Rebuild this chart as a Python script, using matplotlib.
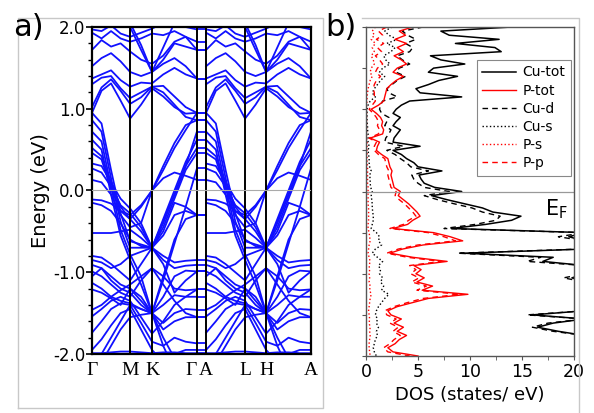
import numpy as np
import matplotlib.pyplot as plt
from matplotlib.lines import Line2D

# k-path: high-symmetry points and their position along the path
kpt_labels = ['Γ', 'M', 'K', 'Γ', 'A', 'L', 'H', 'A']
kpt_dist = [0.0, 0.174, 0.274, 0.479, 0.521, 0.699, 0.795, 1.0]

# band energies (eV) sampled at Γ, 3 pts, M, 1 pt, K, 3 pts, Γ
# (the kz = pi/c plane A-L-H-A looks the same, so the same values are used there)
upper_bands = [
    [1.97, 1.95, 2.02, 1.92, 1.88, 1.93, 1.98, 2.05, 2.10, 2.00, 1.97],
    [1.93, 1.86, 1.95, 1.86, 1.82, 1.86, 1.92, 1.90, 1.95, 1.88, 1.82],
    [1.72, 1.84, 1.76, 1.80, 1.70, 1.60, 1.55, 1.65, 1.82, 1.88, 1.72],
    [2.25, 2.20, 2.15, 2.10, 2.05, 1.78, 1.45, 1.75, 2.05, 2.20, 2.25],
    [2.20, 2.15, 2.10, 2.10, 2.00, 1.72, 1.45, 1.60, 1.80, 1.76, 1.72],
    [1.52, 1.62, 1.68, 1.58, 1.45, 1.40, 1.45, 1.55, 1.62, 1.52, 1.37],
    [1.37, 1.42, 1.47, 1.35, 1.27, 1.32, 1.31, 1.42, 1.50, 1.42, 1.37],
    [1.30, 1.38, 1.40, 1.25, 1.13, 1.20, 1.27, 1.28, 1.15, 1.02, 0.95],
    [0.95, 1.22, 1.31, 1.10, 0.88, 1.05, 1.25, 1.15, 1.02, 0.94, 0.95],
    [1.02, 1.26, 1.36, 1.22, 1.06, 1.14, 1.27, 1.20, 1.05, 0.90, 0.86],
]
mid_bands = [
    [0.95, 0.82, 0.25, -0.28, -0.62, -0.66, -0.70, -0.40, -0.05, 0.30, 0.52],
    [0.86, 0.72, 0.15, -0.38, -0.70, -0.70, -0.70, -0.45, -0.10, 0.25, 0.46],
    [0.72, 0.60, 0.05, -0.48, -0.78, -1.05, -1.50, -1.05, -0.60, -0.35, -0.30],
    [0.62, 0.50, -0.05, -0.55, -0.85, -1.15, -1.50, -1.10, -0.65, -0.20, 0.27],
    [0.52, 0.42, 0.10, -0.20, -0.35, -0.20, 0.00, 0.30, 0.58, 0.80, 0.86],
    [0.46, 0.38, 0.02, -0.25, -0.30, -0.18, 0.00, 0.25, 0.52, 0.74, 0.95],
    [0.33, 0.30, 0.10, -0.10, -0.22, -0.40, -0.70, -0.35, 0.00, 0.35, 0.62],
    [0.27, 0.22, 0.05, -0.18, -0.28, -0.45, -0.70, -0.38, -0.05, 0.30, 0.72],
    [0.13, 0.10, -0.05, -0.30, -0.45, -0.40, 0.00, 0.15, 0.22, 0.18, 0.13],
    [-0.11, -0.12, -0.16, -0.25, -0.35, -0.50, -0.70, -0.55, -0.30, -0.25, -0.30],
    [-0.15, -0.18, -0.25, -0.40, -0.60, -0.68, -0.70, -0.90, -1.25, -1.10, -0.99],
]
lower_bands = [
    [-0.52, -0.52, -0.52, -0.50, -0.48, -0.58, -0.70, -0.50, -0.15, -0.20, -0.30],
    [-0.80, -0.82, -0.90, -1.00, -1.10, -0.90, -0.70, -0.80, -0.88, -0.86, -0.85],
    [-0.85, -0.88, -0.95, -0.90, -0.80, -0.75, -0.70, -0.85, -0.95, -0.92, -0.91],
    [-0.91, -0.95, -1.05, -1.15, -1.20, -1.35, -1.50, -1.30, -1.05, -0.98, -0.99],
    [-0.99, -1.05, -1.15, -1.25, -1.30, -1.10, -0.95, -1.05, -1.20, -1.22, -1.21],
    [-1.05, -0.95, -1.10, -1.20, -1.25, -1.40, -1.50, -1.40, -1.28, -1.30, -1.30],
    [-1.13, -1.20, -1.30, -1.35, -1.38, -1.45, -1.50, -1.62, -1.50, -1.45, -1.46],
    [-1.21, -1.25, -1.32, -1.40, -1.20, -1.30, -1.50, -1.70, -1.60, -1.55, -1.55],
    [-1.46, -1.40, -1.30, -1.22, -1.15, -1.05, -0.95, -1.15, -1.35, -1.50, -1.55],
    [-1.54, -1.45, -1.35, -1.30, -1.35, -1.55, -1.75, -1.60, -1.40, -1.30, -1.21],
    [-1.74, -1.60, -1.45, -1.38, -1.40, -1.62, -1.85, -1.90, -1.80, -1.85, -1.87],
    [-1.95, -1.82, -1.65, -1.50, -1.45, -1.70, -1.95, -2.10, -2.00, -1.95, -1.95],
    [-2.20, -2.00, -1.80, -1.60, -1.40, -1.45, -1.50, -1.80, -2.05, -2.20, -2.30],
    [-2.30, -2.10, -1.90, -1.70, -1.55, -1.52, -1.50, -1.90, -2.20, -2.30, -2.30],
    [-1.99, -1.99, -1.98, -1.97, -1.97, -1.98, -1.99, -1.98, -1.98, -1.99, -1.99],
]

# DOS (states/eV)
dos_energy = [2.00, 1.95, 1.90, 1.85, 1.80, 1.75, 1.70, 1.65, 1.60, 1.55,
              1.50, 1.45, 1.40, 1.35, 1.30, 1.25, 1.20, 1.15, 1.10, 1.05,
              1.00, 0.95, 0.90, 0.85, 0.80, 0.75, 0.70, 0.65, 0.60, 0.55,
              0.50, 0.45, 0.40, 0.35, 0.30, 0.25, 0.20, 0.15, 0.10, 0.05,
              0.00, -0.05, -0.10, -0.15, -0.20, -0.25, -0.30, -0.35, -0.40, -0.45,
              -0.50, -0.55, -0.60, -0.65, -0.70, -0.75, -0.80, -0.85, -0.90, -0.95,
              -1.00, -1.05, -1.10, -1.15, -1.20, -1.25, -1.30, -1.35, -1.40, -1.45,
              -1.50, -1.55, -1.60, -1.65, -1.70, -1.75, -1.80, -1.85, -1.90, -1.95,
              -2.00]
cu_tot = [14.0, 7.2, 8.0, 12.8, 8.6, 12.4, 13.0, 6.2, 7.2, 9.5,
          6.5, 6.0, 8.8, 7.0, 6.0, 4.8, 5.2, 9.2, 4.2, 3.4,
          2.9, 2.6, 3.3, 2.9, 2.6, 3.3, 3.0, 2.7, 2.6, 5.2,
          2.6, 3.4, 3.9, 4.6, 5.0, 7.3, 5.1, 5.3, 5.6, 6.6,
          9.2, 6.3, 7.8, 9.5, 11.2, 12.2, 14.9, 14.0, 11.5, 8.2,
          21, 19.5, 21, 21, 21, 9.4, 18.0, 17.0, 21, 21,
          21, 19.8, 21, 21, 21, 21, 21, 21, 21, 21,
          16.0, 21, 18.0, 16.5, 18.5, 21, 21, 21, 21, 21,
          21]
cu_d = [5.5, 3.5, 4.0, 4.8, 3.8, 4.5, 4.2, 3.0, 3.5, 4.2,
        3.2, 2.9, 3.8, 3.0, 2.5, 2.0, 2.2, 3.0, 1.6, 1.4,
        1.3, 1.5, 2.2, 2.0, 1.8, 2.4, 2.2, 1.9, 1.8, 3.6,
        2.0, 2.8, 3.3, 3.9, 4.3, 6.0, 4.4, 4.6, 5.0, 5.6,
        8.0, 5.6, 6.9, 8.5, 10.2, 11.2, 12.9, 12.5, 10.5, 7.5,
        21, 18.5, 21, 21, 20.5, 8.8, 16.8, 15.5, 21, 21,
        21, 19.0, 21, 21, 21, 21, 21, 21, 21, 21,
        15.5, 21, 17.5, 16.0, 18.0, 21, 21, 21, 21, 21,
        21]
cu_s = [2.5, 1.8, 2.2, 3.0, 2.0, 2.8, 2.4, 1.7, 1.9, 2.3,
        1.6, 1.3, 1.8, 1.4, 1.1, 0.8, 0.6, 0.9, 0.4, 0.2,
        0.1, 0.1, 0.1, 0.1, 0.15, 0.15, 0.2, 0.2, 0.2, 0.3,
        0.2, 0.25, 0.3, 0.3, 0.35, 0.5, 0.35, 0.4, 0.4, 0.45,
        0.6, 0.5, 0.55, 0.6, 0.6, 0.65, 0.7, 0.7, 0.6, 0.5,
        1.0, 1.3, 1.2, 1.5, 0.9, 0.6, 1.1, 1.6, 1.2, 1.4,
        1.3, 1.6, 1.4, 1.7, 1.5, 2.2, 1.8, 1.5, 1.2, 1.0,
        0.9, 1.1, 1.0, 1.2, 1.0, 1.1, 0.9, 0.8, 0.7, 0.8,
        1.0]
p_tot = [4.5, 3.2, 3.8, 2.8, 3.9, 3.0, 3.6, 2.7, 3.4, 3.9,
         3.0, 2.6, 3.6, 2.9, 2.4, 2.0, 1.9, 1.8, 1.7, 1.2,
         0.5, 1.0, 1.4, 1.6, 1.5, 1.7, 1.6, 0.4, 1.3, 1.1,
         1.0, 1.5, 2.1, 2.2, 2.3, 2.5, 2.4, 2.5, 2.6, 2.7,
         3.3, 3.1, 3.6, 4.1, 4.5, 4.9, 5.2, 4.5, 4.0, 2.6,
         6.5, 8.1, 9.3, 5.5, 3.5, 2.3, 4.5, 7.8, 4.6, 5.3,
         4.8, 5.6, 4.9, 6.4, 5.4, 9.8, 6.0, 4.5, 3.0, 2.1,
         2.4, 3.4, 2.7, 3.6, 3.0, 3.9, 3.2, 2.8, 2.1, 2.6,
         5.0]
p_p = [2.0, 1.2, 1.6, 1.0, 1.7, 1.1, 1.5, 0.9, 1.3, 1.6,
       1.1, 0.9, 1.4, 1.0, 0.8, 0.7, 0.8, 0.8, 0.9, 0.6,
       0.3, 0.7, 1.0, 1.2, 1.1, 1.3, 1.2, 0.3, 1.0, 0.8,
       0.8, 1.2, 1.8, 1.9, 2.0, 2.2, 2.1, 2.2, 2.3, 2.4,
       2.9, 2.8, 3.2, 3.7, 4.1, 4.5, 4.8, 4.1, 3.6, 2.3,
       6.0, 7.5, 8.6, 5.0, 3.1, 2.0, 4.0, 7.2, 4.2, 4.8,
       4.3, 5.1, 4.4, 5.8, 4.9, 9.0, 5.5, 4.0, 2.7, 1.8,
       2.0, 2.9, 2.3, 3.1, 2.6, 3.3, 2.7, 2.3, 1.7, 2.1,
       4.2]
p_s = [0.9, 0.6, 0.8, 0.5, 0.9, 0.6, 0.8, 0.5, 0.7, 0.8,
       0.5, 0.4, 0.6, 0.4, 0.3, 0.2, 0.15, 0.1, 0.1, 0.05,
       0.05, 0.05, 0.05, 0.05, 0.05, 0.05, 0.05, 0.05, 0.1, 0.1,
       0.1, 0.1, 0.1, 0.1, 0.15, 0.15, 0.15, 0.15, 0.15, 0.2,
       0.2, 0.2, 0.2, 0.2, 0.25, 0.25, 0.25, 0.25, 0.2, 0.2,
       0.3, 0.35, 0.4, 0.3, 0.25, 0.2, 0.3, 0.4, 0.3, 0.35,
       0.3, 0.35, 0.3, 0.4, 0.35, 0.5, 0.4, 0.35, 0.3, 0.25,
       0.3, 0.35, 0.3, 0.4, 0.35, 0.4, 0.35, 0.3, 0.3, 0.35,
       0.4]

W, H = 594, 413
fig = plt.figure(figsize=(W / 100, H / 100), dpi=100)


def fig_rect(x0, y0, x1, y1):
    # pixel box (top-left origin) -> figure fraction
    return [x0 / W, 1 - y1 / H, (x1 - x0) / W, (y1 - y0) / H]


# light grey frames of the two original sub-pictures
grey = '#c8c8c8'
for xs, ys in [([18, 18, 323, 323, 18], [408, 18, 18, 408, 408]),
               ([362, 579, 579], [18, 18, 413])]:
    fig.add_artist(Line2D(np.array(xs) / W, 1 - np.array(ys) / H,
                          color=grey, lw=1.0, transform=fig.transFigure))

# ---------------- a) band structure ----------------
ax = fig.add_axes(fig_rect(92, 27, 311, 354))
band_col = '#1010ff'


def plane_k(k0, k1, k2, k3):
    return np.concatenate([np.linspace(k0, k1, 5)[:-1],
                           np.linspace(k1, k2, 3)[:-1],
                           np.linspace(k2, k3, 5)])


k_low = plane_k(*kpt_dist[0:4])
k_up = plane_k(*kpt_dist[4:8])
for b in upper_bands + mid_bands + lower_bands:
    ax.plot(k_low, b, color=band_col, lw=1.3)
    ax.plot(k_up, b, color=band_col, lw=1.3)
    ax.plot([kpt_dist[3], kpt_dist[4]], [b[-1], b[-1]], color=band_col, lw=1.3)

for k in kpt_dist[1:-1]:
    ax.axvline(k, color='black', lw=1.4, zorder=3)
ax.axhline(0, color='#aaaaaa', lw=0.8, zorder=3)

ax.set_xlim(0, 1)
ax.set_ylim(-2, 2)
ax.set_yticks([-2, -1, 0, 1, 2])
ax.set_yticklabels(['-2.0', '-1.0', '0.0', '1.0', '2.0'], fontsize=12)
ax.set_yticks(np.arange(-2, 2.01, 0.2), minor=True)
ax.tick_params(axis='y', which='major', direction='out', length=4, width=1.2, pad=1)
ax.tick_params(axis='y', which='minor', direction='out', length=3, width=1.0)
ax.set_xticks(kpt_dist)
ax.set_xticklabels(kpt_labels, fontsize=14, family='Liberation Serif')
ax.tick_params(axis='x', length=0, pad=6)
ax.get_xticklabels()[3].set_horizontalalignment('right')
for s in ax.spines.values():
    s.set_linewidth(1.6)
ax.set_ylabel('Energy (eV)', fontsize=14, labelpad=2)
fig.text(13 / W, 1 - 36 / H, 'a)', fontsize=22)

# ---------------- b) DOS ----------------
bx = fig.add_axes(fig_rect(366, 27, 574, 356))
bx.plot(cu_d, dos_energy, color='black', lw=1.0, dashes=(4, 3), label='Cu-d')
bx.plot(cu_s, dos_energy, color='black', lw=1.0, ls=':', label='Cu-s')
bx.plot(p_s, dos_energy, color='red', lw=1.0, ls=':', label='P-s')
bx.plot(p_p, dos_energy, color='red', lw=1.0, dashes=(4, 3), label='P-p')
bx.plot(cu_tot, dos_energy, color='black', lw=1.1, label='Cu-tot')
bx.plot(p_tot, dos_energy, color='red', lw=1.0, label='P-tot')
bx.axhline(0, color='#999999', lw=0.9)

bx.set_xlim(0, 20)
bx.set_ylim(-2, 2)
bx.set_xticks([0, 5, 10, 15, 20])
bx.set_xticks(np.arange(0, 20.1, 2.5), minor=True)
bx.set_yticks(np.arange(-2, 2.01, 0.5))
bx.set_yticklabels([])
bx.tick_params(axis='x', which='both', direction='out', length=3, labelsize=12.5, pad=2, color='#555555')
bx.tick_params(axis='y', direction='out', length=3, color='#555555')
for s in bx.spines.values():
    s.set_color('#555555')
    s.set_linewidth(1.0)
bx.set_xlabel('DOS (states/ eV)', fontsize=13, labelpad=4)

h, l = bx.get_legend_handles_labels()
order = ['Cu-tot', 'P-tot', 'Cu-d', 'Cu-s', 'P-s', 'P-p']
leg = bx.legend([h[l.index(o)] for o in order], order, loc='upper right',
                bbox_to_anchor=(0.985, 0.90), fontsize=10, frameon=True,
                fancybox=False, edgecolor='#888888', framealpha=1,
                handlelength=2.4, labelspacing=0.3, borderaxespad=0,
                handletextpad=0.5, borderpad=0.4)
leg.get_frame().set_linewidth(0.8)

bx.text(0.97, 0.41, r'E$_\mathrm{F}$', transform=bx.transAxes, fontsize=15,
        ha='right', va='bottom')
fig.text(325 / W, 1 - 36 / H, 'b)', fontsize=22)

fig.savefig('out.png', dpi=100)
